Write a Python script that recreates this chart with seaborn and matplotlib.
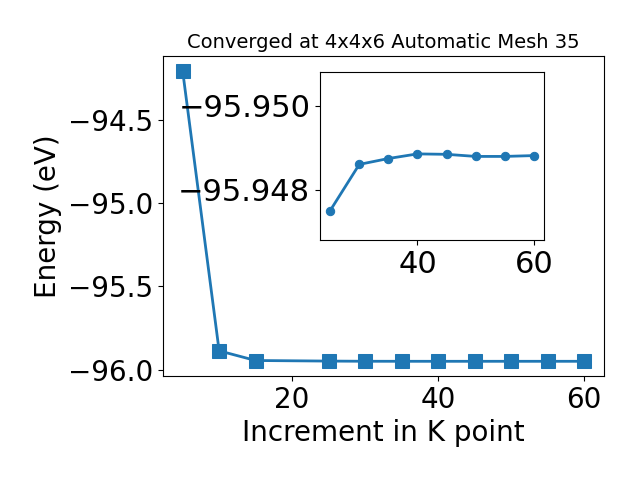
import matplotlib
matplotlib.use("Agg")
import matplotlib.pyplot as plt
import seaborn as sns

# k-point increment vs total energy
kpoints = [5, 10, 15, 25, 30, 35, 40, 45, 50, 55, 60]
energy = [-94.206, -95.886, -95.944, -95.94750, -95.94860, -95.94874,
          -95.94885, -95.94884, -95.94879, -95.94879, -95.94881]

# zoomed part (from 25 on)
kpoints_zoom = kpoints[3:]
energy_zoom = energy[3:]

title = "Converged at 4x4x6 Automatic Mesh 35"
color = "#1f77b4"

plt.rcParams["font.size"] = 20
fig = plt.figure(figsize=(6.4, 4.8), dpi=100)
ax = fig.add_axes([0.254, 0.217, 0.690, 0.666])

sns.lineplot(x=kpoints, y=energy, ax=ax, color=color, marker="s",
             markersize=10, linewidth=2, markeredgecolor=color)
ax.set_xlabel("Increment in K point")
ax.set_ylabel("Energy (eV)")
ax.set_title(title, fontsize=14)
ax.set_xticks([20, 40, 60])
ax.set_yticks([-94.5, -95.0, -95.5, -96.0])

# inset
ins = fig.add_axes([0.5, 0.5, 0.35, 0.35])
sns.lineplot(x=kpoints_zoom, y=energy_zoom, ax=ins, color=color, marker="o",
             markersize=6, linewidth=2, markeredgecolor=color)
ins.set_ylim(-95.9468, -95.9508)
ins.set_yticks([-95.948, -95.950])
ins.set_xticks([40, 60])
ins.tick_params(labelsize=22)

fig.savefig("out.png")
